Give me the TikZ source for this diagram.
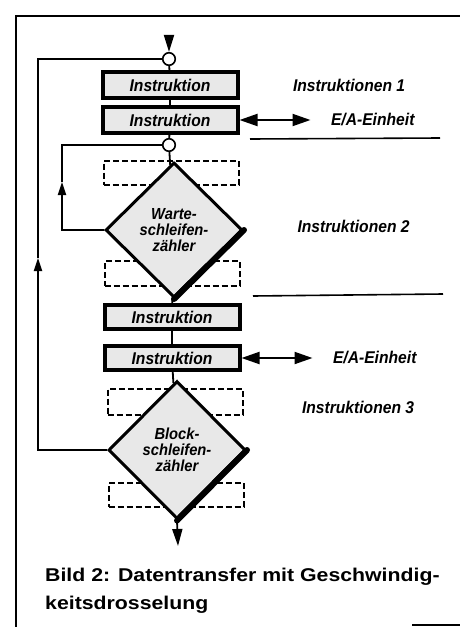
\documentclass[tikz,border=0pt]{standalone}
\usepackage{fontspec}
\setmainfont{Liberation Sans}
\newfontfamily\diafont[FakeStretch=0.92]{Liberation Sans}
\newfontfamily\capfont[FakeStretch=1.15]{Liberation Sans}
\usetikzlibrary{shapes.geometric,arrows.meta,positioning}

\begin{document}
\begin{tikzpicture}[x=1pt, y=-1pt, node distance=5pt and 88pt,
    every node/.style={font=\diafont\bfseries\itshape\fontsize{17}{18}\selectfont},
    instr/.style={draw, line width=4pt, fill=gray!18, minimum width=135pt, minimum height=24pt, inner sep=0pt},
    dashbox/.style={draw, dash pattern=on 6pt off 3pt, line width=2pt, minimum width=135pt, minimum height=24pt, inner sep=0pt},
    decide/.style={draw, diamond, line width=3pt, fill=gray!18, minimum width=137pt, minimum height=135pt, inner sep=0pt, align=center, font=\diafont\bfseries\itshape\fontsize{16}{16}\selectfont},
    joint/.style={draw, circle, line width=1.6pt, fill=white, minimum size=12.5pt, inner sep=0pt},
    flow/.style={line width=1.8pt},
    bigtip/.style={-{Triangle[width=10pt,length=17pt]}},
    smalltip/.style={-{Triangle[width=8pt,length=13pt]}},
    iotip/.style={{Triangle[width=12pt,length=18pt]}-{Triangle[width=12pt,length=18pt]}, line width=2pt}]
    \useasboundingbox (0,0) rectangle (460,627);
    % frame of the figure
    \draw[line width=1.8pt] (460,16) -- (16,16) -- (16,627);
    \draw[line width=1.2pt] (412,625) -- (460,625);

    % first block
    \node[joint] (c1) at (169,59) {};
    \node[instr, minimum height=26pt] (b1) at (170,85) {Instruktion};
    \node[instr, minimum height=26pt, below=5pt of b1] (b2) {Instruktion};
    \node[right=50pt of b1] (i1) {Instruktionen 1};
    \node[right=88pt of b2] (e1) {E/A-Einheit};
    \draw[line width=1.6pt] (250,139) -- (440,138);

    % wait loop
    \node[joint] (c2) at (169,145) {};
    \node[dashbox] (w1) at (171,172.5) {};
    \node[dashbox, minimum height=25pt] (w2) at (172,273.5) {};
    \node[decide] (d1) at (174,230) {Warte-\\schleifen-\\zähler};
    \draw[line width=6pt, line cap=round] (d1.east) -- (d1.south);
    \node[right=50pt of d1, yshift=4pt] (i2) {Instruktionen 2};
    \draw[line width=1.6pt] (253,296) -- (443,294);

    % second block
    \node[instr] (b3) at (172,317) {Instruktion};
    \node[instr, below=13pt of b3] (b4) {Instruktion};
    \node[right=88pt of b4] (e2) {E/A-Einheit};
    \node[dashbox, minimum height=26pt] (w3) at (175,401.5) {};
    \node[dashbox] (w4) at (176,495) {};
    \node[decide, minimum height=138pt] (d2) at (177,450) {Block-\\schleifen-\\zähler};
    \draw[line width=6pt, line cap=round] (d2.east) -- (d2.south);
    \node[right=55pt of w3, yshift=-6pt] (i3) {Instruktionen 3};

    % connectors
    \coordinate (start) at (169,35);
    \coordinate (stop) at (178,546);
    \coordinate (up1) at (38,258);
    \coordinate (up2) at (62,182);
    \draw[flow, bigtip] (start) -- (c1.north);
    \draw[flow] (c1) -- (b1);
    \draw[flow] (b1) -- (b2);
    \draw[flow] (b2) -- (c2);
    \draw[flow] (c2) -- (d1);
    \draw[flow] (d1) -- (b3);
    \draw[flow] (b3) -- (b4);
    \draw[flow] (b4) -- (d2);
    \draw[flow, bigtip] (d2.south) -- (stop);
    \draw[iotip, shorten >=17pt] (b2.east) -- (e1.west);
    \draw[iotip, shorten >=17pt] (b4.east) -- (e2.west);
    \draw[flow, smalltip] (d1.west) -| (up2);
    \draw[flow] (up2) |- (c2.west);
    \draw[flow, smalltip] (d2.west) -| (up1);
    \draw[flow] (up1) |- (c1.west);

    % caption
    \node[anchor=west, inner sep=0pt, align=left, font=\capfont\bfseries\fontsize{18.5}{28}\selectfont] (cap) at (45,591)
        {Bild 2: Datentransfer mit Geschwindig-\\keitsdrosselung};
\end{tikzpicture}
\end{document}
